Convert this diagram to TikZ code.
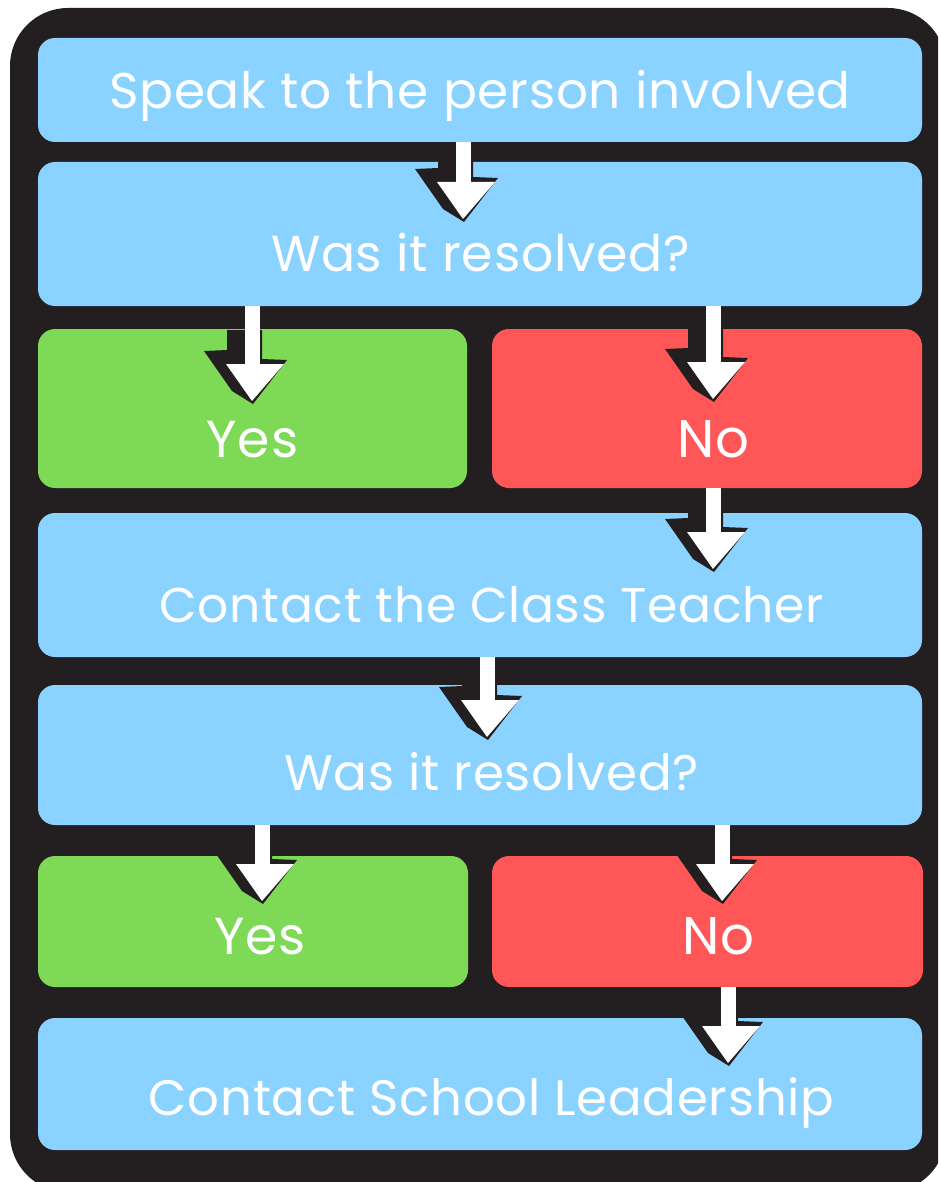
\documentclass[tikz,border=0pt]{standalone}
\usepackage{fontspec}
\setmainfont{Poppins}[LetterSpace=1.5]
\definecolor{ink}{HTML}{231F20}
\definecolor{skyb}{HTML}{8AD2FF}
\definecolor{leaf}{HTML}{7ED957}
\definecolor{coral}{HTML}{FF5757}
\tikzset{
 x=1pt,y=-1pt,
 boxbase/.style={rounded corners=17pt,inner sep=0pt,outer sep=0pt},
 bluebox/.style={boxbase,fill=skyb},
 greenbox/.style={boxbase,fill=leaf},
 redbox/.style={boxbase,fill=coral},
 caption/.style={text=white,anchor=base,inner sep=0pt,font=\fontsize{#1}{#1}\selectfont},
 caption/.default=50.5,
 shaftline/.style={line width=15pt,white},
}
% box: name, x0,y0,x1,y1, style
\newcommand{\flowbox}[6]{\node[#6,minimum width=#4pt-#2pt,minimum height=#5pt-#3pt,anchor=north west] (#1) at (#2,#3) {};}
% arrow: name, source node, x, tip y
\newcommand{\flowarrow}[4]{%
 \coordinate (#1) at (#3,#4);
 \begin{scope}[shift={(#1)}]
  \fill[ink] (-25,-56) -- (-25,-50) -- (-48,-49) -- (-20,-9) -- (1,4) -- (35,-40) -- (10,-41) -- (10,-70) -- (-25,-70) -- cycle;
 \end{scope}
 \draw[shaftline] (#2.south -| #1) -- ([yshift=34pt]#1);
 \begin{scope}[shift={(#1)}]
  \fill[white] (-26,-36) -- (32,-36) -- (0,1) -- cycle;
 \end{scope}
}
\begin{document}
\begin{tikzpicture}
\useasboundingbox (0,0) rectangle (938,1182);
\fill[white] (0,0) rectangle (938,1182);
\begin{scope}
\clip (0,0) rectangle (938,1182);
\fill[ink,rounded corners=58pt] (10,8) rectangle (946,1192);
\end{scope}
\flowbox{b1}{38}{38}{922}{142}{bluebox}
\flowbox{b2}{38}{162}{922}{306}{bluebox}
\flowbox{y1}{38}{329}{467}{488}{greenbox}
\flowbox{n1}{492}{329}{922}{488}{redbox}
\flowbox{b3}{38}{513}{922}{657}{bluebox}
\flowbox{b4}{38}{685}{922}{825}{bluebox}
\flowbox{y2}{38}{856}{468}{987}{greenbox}
\flowbox{n2}{492}{856}{923}{987}{redbox}
\flowbox{b5}{38}{1018}{922}{1150}{bluebox}
\node[caption=50.2] (t1) at (480,109) {Speak to the person involved};
\node[caption] (t2) at (480.5,271) {Was it resolved?};
\node[caption=52] (t3) at (252.5,457) {Yes};
\node[caption=53] (t4) at (713,457) {No};
\node[caption=48.8] (t5) at (491.5,622) {Contact the Class Teacher};
\node[caption=50] (t6) at (491.5,790) {Was it resolved?};
\node[caption=52] (t7) at (260,954) {Yes};
\node[caption=53] (t8) at (718,954) {No};
\node[caption=49.8] (t9) at (491.5,1115) {Contact School Leadership};
\flowarrow{a1}{b1}{463}{218}
\flowarrow{a2}{b2}{252}{400}
\flowarrow{a3}{b2}{713}{398}
\flowarrow{a4}{n1}{713}{568}
\flowarrow{a5}{b3}{487}{736}
\flowarrow{a6}{b4}{262}{900}
\flowarrow{a7}{b4}{722}{900}
\flowarrow{a8}{n2}{728}{1062}
\end{tikzpicture}
\end{document}
